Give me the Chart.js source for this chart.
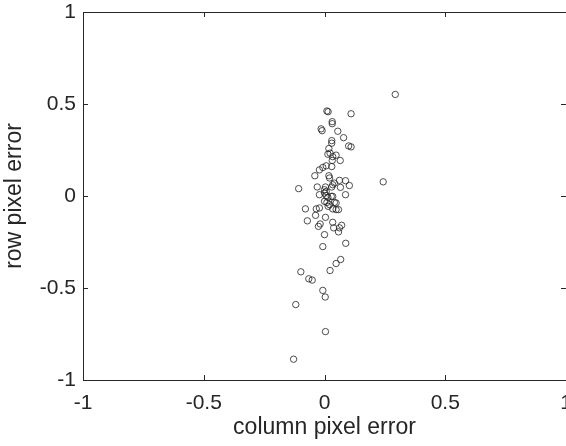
<!DOCTYPE html>
<html>
<head>
<meta charset="utf-8">
<script src="https://cdn.jsdelivr.net/npm/chart.js@4/dist/chart.umd.min.js"></script>
<style>
  html, body { margin: 0; padding: 0; background: #fff; }
  #wrap { width: 566px; height: 446px; }
</style>
</head>
<body>
<div id="wrap"><canvas id="errChart" width="566" height="446"></canvas></div>
<script>
// erros de pixel (coluna, linha)
const colErr = [0.293, 0.010, 0.015, 0.110, 0.032, 0.032, -0.014, -0.010, 0.055, 0.079,
  0.030, 0.030, 0.100, 0.110, 0.018, 0.014, 0.023, 0.048, 0.034, 0.032,
  0.065, 0.030, 0.007, -0.007, -0.021, -0.040, 0.018, 0.021, 0.062, 0.087,
  0.041, 0.103, 0.243, -0.107, -0.030, 0.004, 0.000, 0.007, 0.030, 0.034,
  0.066, 0.087, -0.021, 0.007, 0.028, 0.000, 0.014, 0.034, 0.000, 0.010,
  0.021, 0.041, 0.048, 0.015, 0.034, 0.048, 0.058, -0.079, -0.034, -0.021,
  -0.037, 0.004, -0.071, 0.034, -0.018, -0.025, 0.071, 0.062, 0.038, 0.058,
  0.000, 0.088, -0.007, 0.067, 0.048, 0.023, -0.098, -0.065, -0.051, -0.007,
  0.003, -0.119, 0.004, -0.128];
const rowErr = [0.552, 0.462, 0.458, 0.447, 0.404, 0.393, 0.365, 0.355, 0.352, 0.317,
  0.301, 0.287, 0.272, 0.267, 0.258, 0.227, 0.233, 0.222, 0.214, 0.193,
  0.193, 0.160, 0.164, 0.155, 0.142, 0.110, 0.110, 0.098, 0.085, 0.083,
  0.070, 0.057, 0.077, 0.040, 0.049, 0.049, 0.034, 0.025, 0.049, 0.061,
  0.047, 0.007, 0.007, 0.002, -0.002, 0.016, -0.008, -0.002, -0.029, -0.035,
  -0.047, -0.035, -0.038, -0.056, -0.070, -0.074, -0.074, -0.070, -0.070, -0.065,
  -0.105, -0.116, -0.135, -0.143, -0.152, -0.165, -0.159, -0.173, -0.173, -0.195,
  -0.210, -0.257, -0.275, -0.345, -0.367, -0.405, -0.412, -0.450, -0.457, -0.513,
  -0.549, -0.590, -0.737, -0.887];
const xTicks = [-1, -0.5, 0, 0.5, 1];
const yTicks = [-1, -0.5, 0, 0.5, 1];

const axisColor = '#262626';
const fontFamily = 'Liberation Sans, Arial, sans-serif';
const tickFont = { family: fontFamily, size: 21 };
const titleFont = { family: fontFamily, size: 23 };

// caixa e marcas de escala para dentro (estilo MATLAB)
const boxTicks = {
  id: 'boxTicks',
  afterDraw(chart) {
    const { ctx, chartArea: a, scales: { x, y } } = chart;
    const len = 5;
    ctx.save();
    ctx.strokeStyle = axisColor;
    ctx.lineWidth = 1;
    ctx.beginPath();
    ctx.moveTo(a.left, Math.round(a.top) + 0.5);
    ctx.lineTo(a.right, Math.round(a.top) + 0.5);
    ctx.moveTo(Math.round(a.right) + 0.5, a.top);
    ctx.lineTo(Math.round(a.right) + 0.5, a.bottom);
    xTicks.forEach(v => {
      const px = Math.round(x.getPixelForValue(v)) + 0.5;
      ctx.moveTo(px, a.bottom); ctx.lineTo(px, a.bottom - len);
      ctx.moveTo(px, a.top); ctx.lineTo(px, a.top + len);
    });
    yTicks.forEach(v => {
      const py = Math.round(y.getPixelForValue(v)) + 0.5;
      ctx.moveTo(a.left, py); ctx.lineTo(a.left + len, py);
      ctx.moveTo(a.right, py); ctx.lineTo(a.right - len, py);
    });
    ctx.stroke();
    ctx.restore();
  }
};

const ctx = document.getElementById('errChart').getContext('2d');
const errChart = new Chart(ctx, {
  type: 'scatter',
  data: {
    datasets: [{
      data: colErr.map((c, i) => ({ x: c, y: rowErr[i] })),
      pointStyle: 'circle',
      pointRadius: 3.2,
      pointHoverRadius: 3.2,
      borderWidth: 0.8,
      borderColor: '#222',
      backgroundColor: 'rgba(0,0,0,0)'
    }]
  },
  options: {
    responsive: false,
    animation: false,
    layout: { autoPadding: false, padding: { top: 12, right: 0, left: 0, bottom: 0 } },
    plugins: { legend: { display: false }, tooltip: { enabled: false } },
    scales: {
      x: {
        type: 'linear',
        min: -1, max: 1,
        afterBuildTicks: s => { s.ticks = xTicks.map(v => ({ value: v })); },
        afterFit: s => { s.height = 66; s.paddingLeft = 0; s.paddingRight = 0; },
        grid: { display: false, drawTicks: false },
        border: { display: true, color: axisColor, width: 1 },
        ticks: { color: axisColor, font: tickFont, padding: 11, maxRotation: 0,
                 autoSkip: false, callback: v => String(v) },
        title: { display: true, text: 'column pixel error', color: axisColor,
                 font: titleFont, padding: { top: 0, bottom: 5 } }
      },
      y: {
        type: 'linear',
        min: -1, max: 1,
        afterBuildTicks: s => { s.ticks = yTicks.map(v => ({ value: v })); },
        afterFit: s => { s.width = 83; s.paddingTop = 0; s.paddingBottom = 0; },
        grid: { display: false, drawTicks: false },
        border: { display: true, color: axisColor, width: 1 },
        ticks: { color: axisColor, font: tickFont, padding: 7,
                 autoSkip: false, callback: v => String(v) },
        title: { display: true, text: 'row pixel error', color: axisColor,
                 font: titleFont, padding: { top: 1, bottom: 0 } }
      }
    }
  },
  plugins: [boxTicks]
});
</script>
</body>
</html>
